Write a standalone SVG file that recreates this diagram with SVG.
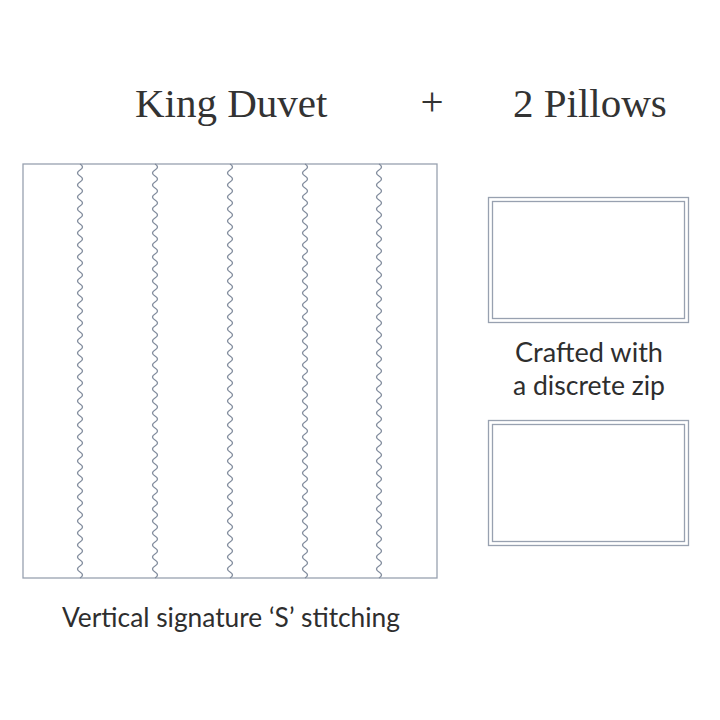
<svg xmlns="http://www.w3.org/2000/svg" xmlns:xlink="http://www.w3.org/1999/xlink" width="720" height="720" viewBox="0 0 720 720">
<style>
.title{font-family:"Liberation Serif","Times New Roman",serif;font-size:41px;fill:#333;}
.label{font-family:"Lato","Liberation Sans",sans-serif;font-size:27px;fill:#2e2e2e;}
.edge{fill:none;stroke:#98a1b0;stroke-width:1.3;}
.wave{fill:none;stroke:#7f8a9b;stroke-width:1.3;}
</style>
<defs>
<path id="w" d="M0,164 q5,3 0,6 t0,6t0,6t0,6t0,6t0,6t0,6t0,6t0,6t0,6t0,6 t0,6t0,6t0,6t0,6t0,6t0,6t0,6t0,6t0,6t0,6 t0,6t0,6t0,6t0,6t0,6t0,6t0,6t0,6t0,6t0,6 t0,6t0,6t0,6t0,6t0,6t0,6t0,6t0,6t0,6t0,6 t0,6t0,6t0,6t0,6t0,6t0,6t0,6t0,6t0,6t0,6 t0,6t0,6t0,6t0,6t0,6t0,6t0,6t0,6t0,6t0,6 t0,6t0,6t0,6t0,6t0,6t0,6t0,6t0,6"/>
</defs>
<rect width="720" height="720" fill="#fff"/>
<g id="titles">
<text class="title" x="135" y="117">King Duvet</text>
<text class="title" x="432" y="115" text-anchor="middle" font-size="30">+</text>
<text class="title" x="513" y="117">2 Pillows</text>
</g>
<g id="duvet">
<rect class="edge" x="23" y="164" width="414" height="414"/>
<use class="wave" xlink:href="#w" x="80"/>
<use class="wave" xlink:href="#w" x="155"/>
<use class="wave" xlink:href="#w" x="230"/>
<use class="wave" xlink:href="#w" x="305"/>
<use class="wave" xlink:href="#w" x="379"/>
<text class="label" x="231" y="627" text-anchor="middle" textLength="338" lengthAdjust="spacingAndGlyphs">Vertical signature ‘S’ stitching</text>
</g>
<g id="pillow1">
<rect class="edge" x="488.5" y="197.5" width="200" height="125"/>
<rect class="edge" x="492.5" y="201.5" width="192" height="117"/>
</g>
<g id="pillow-label">
<text class="label" x="589" y="362" text-anchor="middle" textLength="148" lengthAdjust="spacingAndGlyphs">Crafted with</text>
<text class="label" x="589" y="395" text-anchor="middle" textLength="152" lengthAdjust="spacingAndGlyphs">a discrete zip</text>
</g>
<g id="pillow2">
<rect class="edge" x="488.5" y="420.5" width="200" height="125"/>
<rect class="edge" x="492.5" y="424.5" width="192" height="117"/>
</g>
</svg>
